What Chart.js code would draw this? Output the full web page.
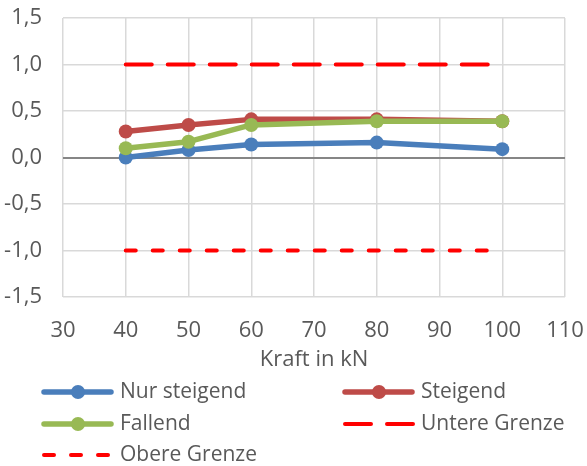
<!DOCTYPE html>
<html><head><meta charset="utf-8">
<script src="https://cdn.jsdelivr.net/npm/chart.js@4"></script>
<style>html,body{margin:0;padding:0;background:#fff}#wrap{width:587px;height:466px;position:relative}</style>
</head><body><div id="wrap"><canvas id="c" width="587" height="466"></canvas></div>
<script>
const xValues = [40, 50, 60, 80, 100];
const nurSteigend = [0.0, 0.08, 0.14, 0.16, 0.09];
const steigend = [0.28, 0.35, 0.41, 0.41, 0.39];
const fallend = [0.10, 0.17, 0.35, 0.39, 0.39];
const grenzeX = [40, 100];
const untereGrenze = [1.0, 1.0];
const obereGrenze = [-1.0, -1.0];
const seriesNames = ['Nur steigend', 'Steigend', 'Fallend', 'Untere Grenze', 'Obere Grenze'];
const xTicks = [30, 40, 50, 60, 70, 80, 90, 100, 110];
const yTicks = [-1.5, -1.0, -0.5, 0.0, 0.5, 1.0, 1.5];

const FONT = '"Open Sans"';
const FS = 22;
const LFS = 21;
const TXT = '#595959';
const pts = (xs, ys) => xs.map((x, i) => ({x, y: ys[i]}));

function lineDs(label, data, color, order) {
  return {label, data, borderColor: color, backgroundColor: color, borderWidth: 5.5,
    pointRadius: 7, pointHoverRadius: 7, pointBorderWidth: 0, pointBackgroundColor: color,
    tension: 0, order, borderCapStyle: 'round', borderJoinStyle: 'round'};
}
function dashDs(label, data, dash, order) {
  return {label, data, borderColor: '#FF0000', backgroundColor: '#FF0000', borderWidth: 4,
    borderDash: dash, borderCapStyle: 'round', pointRadius: 0, order};
}

const legendPlugin = {
  id: 'customLegend',
  afterDraw(chart) {
    const ctx = chart.ctx;
    const cols = [42, 343];
    const rows = [392, 424, 455];
    const ds = chart.data.datasets;
    ctx.save();
    ctx.font = LFS + 'px ' + FONT;
    ctx.textBaseline = 'middle';
    ds.forEach((d, i) => {
      const cx = cols[i % 2], cy = rows[Math.floor(i / 2)];
      ctx.strokeStyle = d.borderColor;
      ctx.lineWidth = d.borderWidth;
      ctx.lineCap = 'round';
      ctx.setLineDash(d.borderDash || []);
      ctx.beginPath();
      if (d.borderDash) { ctx.moveTo(cx + 2, cy); ctx.lineTo(cx + 71, cy); }
      else { ctx.moveTo(cx + 2, cy); ctx.lineTo(cx + 69, cy); }
      ctx.stroke();
      ctx.setLineDash([]);
      if (d.pointRadius > 0) {
        ctx.fillStyle = d.borderColor;
        ctx.beginPath(); ctx.arc(cx + 36, cy, d.pointRadius, 0, Math.PI * 2); ctx.fill();
      }
      ctx.fillStyle = TXT;
      ctx.fillText(d.label, cx + 78, cy);
    });
    ctx.restore();
  }
};

new Chart(document.getElementById('c'), {
  type: 'line',
  data: {
    datasets: [
      lineDs(seriesNames[0], pts(xValues, nurSteigend), '#4A7EBB', 3),
      lineDs(seriesNames[1], pts(xValues, steigend), '#BE4B48', 2),
      lineDs(seriesNames[2], pts(xValues, fallend), '#98B954', 1),
      dashDs(seriesNames[3], pts(grenzeX, untereGrenze), [26, 16], 4),
      dashDs(seriesNames[4], pts(grenzeX, obereGrenze), [10, 17], 5)
    ]
  },
  options: {
    responsive: false, animation: false,
    layout: {padding: {top: 18, right: 22, bottom: 93, left: 0}},
    plugins: {legend: {display: false}, tooltip: {enabled: false}, title: {display: false}},
    scales: {
      x: {
        type: 'linear', min: 30, max: 110,
        afterBuildTicks: s => { s.ticks = xTicks.map(v => ({value: v})); },
        afterFit: s => { s.height = 76; s.paddingLeft = 0; s.paddingRight = 0; },
        grid: {color: '#D9D9D9', lineWidth: 1.5, drawTicks: false},
        border: {display: false},
        ticks: {color: TXT, font: {family: 'Open Sans', size: FS}, padding: 21, maxRotation: 0},
        title: {display: true, text: 'Kraft in kN', color: TXT, font: {family: 'Open Sans', size: FS}, padding: {top: 0, bottom: 0}}
      },
      y: {
        min: -1.5, max: 1.5,
        afterBuildTicks: s => { s.ticks = yTicks.map(v => ({value: v})); },
        afterFit: s => { s.width = 63; s.paddingTop = 0; s.paddingBottom = 0; },
        grid: {color: c => (c.tick && c.tick.value === 0) ? '#868686' : '#D9D9D9', lineWidth: c => (c.tick && c.tick.value === 0) ? 2 : 1.5, drawTicks: false},
        border: {display: false},
        ticks: {color: TXT, font: {family: 'Open Sans', size: FS}, padding: 21,
          callback: v => v.toFixed(1).replace('.', ',')}
      }
    }
  },
  plugins: [legendPlugin]
});
</script></body></html>
